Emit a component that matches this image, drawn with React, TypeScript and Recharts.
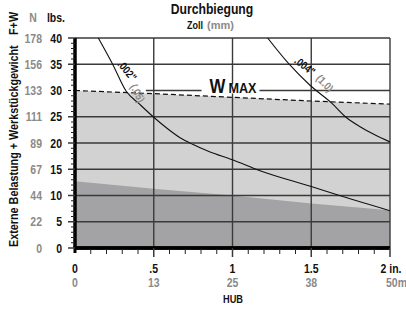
import React from 'react';
import { ComposedChart, Area, Line, XAxis, YAxis, ReferenceLine, ReferenceDot } from 'recharts';

const FONT = "'Liberation Sans', Arial, 'DejaVu Sans', sans-serif";
const GRAY_TEXT = '#8a8a8a';
const GRID = '#3a3a3a';

// y axis (lbs) and N equivalents
const lbsTicks = [0, 5, 10, 15, 20, 25, 30, 35, 40];
const newtonLabels = ['0', '22', '44', '67', '89', '111', '133', '156', '178'];
const yAllTicks = [0, 1, 2, 3, 4, 5, 6, 7, 8, 9, 10, 11, 12, 13, 14, 15, 16, 17, 18, 19, 20,
  21, 22, 23, 24, 25, 26, 27, 28, 29, 30, 31, 32, 33, 34, 35, 36, 37, 38, 39, 40];

// x axis (stroke, inches) and mm equivalents
const inchTicks = [0, 0.5, 1, 1.5, 2];
const inchLabels = ['0', '.5', '1', '1.5', '2 in.'];
const mmLabels = ['0', '13', '25', '38', '50mm'];
const xAllTicks = [0, 0.1, 0.2, 0.3, 0.4, 0.5, 0.6, 0.7, 0.8, 0.9, 1, 1.1, 1.2, 1.3, 1.4, 1.5,
  1.6, 1.7, 1.8, 1.9, 2];

// horizontal grid values (30 handled separately, interrupted by the W MAX label)
const gridY = [5, 10, 15, 20, 25, 35, 40];
const gridX = [0.5, 1, 1.5, 2];

// W MAX boundary (dashed), light area
const wmax = [
  { x: 0, y: 30 }, { x: 0.5, y: 29.4 }, { x: 1, y: 28.7 }, { x: 1.5, y: 28.0 }, { x: 2, y: 27.4 },
];
// dark area boundary
const darkZone = [
  { x: 0, y: 12.7 }, { x: 0.5, y: 11.3 }, { x: 1, y: 10.0 }, { x: 1.5, y: 8.5 }, { x: 2, y: 7.2 },
];
// .002" (.05) deflection curve
const curve002 = [
  { x: 0.148, y: 40 }, { x: 0.239, y: 35 }, { x: 0.324, y: 29.9 }, { x: 0.41, y: 27.4 },
  { x: 0.5, y: 24.9 }, { x: 0.58, y: 22.9 }, { x: 0.667, y: 21.0 }, { x: 0.75, y: 19.7 },
  { x: 0.85, y: 18.4 }, { x: 1.0, y: 16.8 }, { x: 1.175, y: 14.7 }, { x: 1.5, y: 11.7 },
  { x: 1.7, y: 9.8 }, { x: 2.0, y: 7.1 },
];
// .004" (1.0) deflection curve
const curve004 = [
  { x: 1.223, y: 40 }, { x: 1.354, y: 35.2 }, { x: 1.492, y: 31.0 }, { x: 1.63, y: 27.6 },
  { x: 1.725, y: 24.8 }, { x: 1.81, y: 23.1 }, { x: 1.9, y: 21.6 }, { x: 2.0, y: 20.2 },
];

// condensed bold text helper (horizontal scale along the text direction)
const CText = ({ x, y, size, color = '#111', anchor = 'start', sx = 0.84, angle = 0, weight = 'bold', children }: any) => (
  <text transform={`translate(${x} ${y}) rotate(${angle}) scale(${sx} 1)`} textAnchor={anchor}
    fontFamily={FONT} fontWeight={weight} fontSize={size} fill={color}>{children}</text>
);

const YTick = (props: any) => {
  const { x, y, payload } = props;
  const v = payload.value;
  const i = lbsTicks.indexOf(v);
  if (i < 0) {
    return <line x1={x - 4} x2={x} y1={y} y2={y} stroke="#222" strokeWidth={1} />;
  }
  return (
    <g>
      <line x1={x - 7} x2={x} y1={y} y2={y} stroke={v === 30 ? '#111' : GRID} strokeWidth={v === 30 ? 1.2 : 1.5}
        strokeDasharray={v === 30 ? '3 2' : undefined} />
      <CText x={x - 13} y={y + 4.5} anchor="end" size={12.5}>{String(v)}</CText>
      <CText x={x - 33} y={y + 4.5} anchor="end" size={12.5} color={GRAY_TEXT}>{newtonLabels[i]}</CText>
    </g>
  );
};

const XTick = (props: any) => {
  const { x, y, payload } = props;
  const v = payload.value;
  const i = inchTicks.findIndex((t) => Math.abs(t - v) < 1e-6);
  if (i < 0) {
    return <line x1={x} x2={x} y1={y + 1} y2={y + 6} stroke="#222" strokeWidth={1} />;
  }
  const last = i === inchTicks.length - 1;
  return (
    <g>
      {i === 0
        ? <line x1={x} x2={x} y1={y - 2} y2={y + 5} stroke="#000" strokeWidth={3} />
        : <line x1={x} x2={x} y1={y} y2={y + 9} stroke={GRID} strokeWidth={1.5} />}
      <CText x={last ? x + 1 : x} y={y + 24.5} anchor="middle" size={12.5}>{inchLabels[i]}</CText>
      <CText x={last ? x - 4 : x} y={y + 38.5} anchor={last ? 'start' : 'middle'} size={12.5} color={GRAY_TEXT}>{mmLabels[i]}</CText>
    </g>
  );
};

const rotLabel = (text: string, angle: number, color: string) => (p: any) => (
  <g transform={`translate(${p.cx} ${p.cy}) rotate(${angle})`}>
    <text x={0} y={4} transform="scale(0.85 1)" textAnchor="middle"
      fontFamily={FONT} fontWeight="bold" fontSize={11} fill={color}>{text}</text>
  </g>
);

const WMaxLabel = (p: any) => (
  <g>
    <rect x={p.cx - 31} y={p.cy - 6} width={58} height={9} fill="#fff" />
    <CText x={p.cx - 23} y={p.cy + 2.5} size={21} sx={0.8}>W</CText>
    <CText x={p.cx - 4} y={p.cy + 2.5} size={14} sx={0.9}>MAX</CText>
  </g>
);

export default function App() {
  return (
    <div style={{ position: 'absolute', left: 0, top: 0, width: 406, height: 311, background: '#fff' }}>
      <ComposedChart width={406} height={311} margin={{ top: 38, right: 16, bottom: 0, left: 0 }}>
        <XAxis dataKey="x" type="number" domain={[0, 2]} ticks={xAllTicks} interval={0}
          tick={<XTick />} tickLine={false} tickSize={0} tickMargin={0} height={63}
          axisLine={{ stroke: '#000', strokeWidth: 3.5 }} allowDataOverflow />
        <YAxis type="number" domain={[0, 40]} ticks={yAllTicks} interval={0}
          tick={<YTick />} tickLine={false} tickSize={0} tickMargin={0} width={75}
          axisLine={{ stroke: '#000', strokeWidth: 3 }} allowDataOverflow />
        <Area data={wmax} dataKey="y" type="linear" fill="#d2d2d2" fillOpacity={1} stroke="none" isAnimationActive={false} />
        <Area data={darkZone} dataKey="y" type="linear" fill="#a3a3a5" fillOpacity={1} stroke="none" isAnimationActive={false} />
        {gridY.map((v) => (
          <ReferenceLine key={`gy${v}`} y={v} stroke={GRID} strokeWidth={1.4} />
        ))}
        <ReferenceLine segment={[{ x: 0.45, y: 30 }, { x: 2, y: 30 }]} stroke={GRID} strokeWidth={1.4} />
        {gridX.map((v) => (
          <ReferenceLine key={`gx${v}`} x={v} stroke={GRID} strokeWidth={1.4} />
        ))}
        <Line data={wmax} dataKey="y" type="linear" stroke="#111" strokeWidth={1.2} strokeDasharray="5 3" dot={false} isAnimationActive={false} />
        <Line data={curve002} dataKey="y" type="monotone" stroke="#111" strokeWidth={1.1} dot={false} isAnimationActive={false} />
        <Line data={curve004} dataKey="y" type="monotone" stroke="#111" strokeWidth={1.1} dot={false} isAnimationActive={false} />
        <ReferenceLine segment={[{ x: 0, y: 0 }, { x: 0, y: 40 }]} stroke="#000" strokeWidth={3} />
        <ReferenceLine segment={[{ x: 0, y: 0 }, { x: 2, y: 0 }]} stroke="#000" strokeWidth={3.5} />
        <ReferenceDot x={1.0} y={30} r={0} shape={WMaxLabel} />
        <ReferenceDot x={0.332} y={33.8} r={0} shape={rotLabel('.002"', 50, '#111')} />
        <ReferenceDot x={0.398} y={29.5} r={0} shape={rotLabel('(.05)', 63, GRAY_TEXT)} />
        <ReferenceDot x={1.46} y={34.7} r={0} shape={rotLabel('.004"', 38, '#111')} />
        <ReferenceDot x={1.587} y={31.4} r={0} shape={rotLabel('(1.0)', 46, GRAY_TEXT)} />
      </ComposedChart>
      <svg width={406} height={311} style={{ position: 'absolute', left: 0, top: 0, pointerEvents: 'none' }}>
        <CText x={212} y={14} anchor="middle" size={14} sx={0.87}>Durchbiegung</CText>
        <CText x={187} y={29} size={11} sx={0.82}>Zoll</CText>
        <CText x={207} y={29} size={11} sx={1} color={GRAY_TEXT}>(mm)</CText>
        <CText x={33} y={22} anchor="middle" size={12.5} color={GRAY_TEXT}>N</CText>
        <CText x={56} y={22} anchor="middle" size={12.5}>lbs.</CText>
        <CText x={18} y={247} angle={-90} size={12} sx={0.9}>Externe Belastung + Werkstückgewicht</CText>
        <CText x={18} y={35} angle={-90} size={12} sx={0.9}>F+W</CText>
        <CText x={233} y={302.5} anchor="middle" size={11} sx={0.84}>HUB</CText>
      </svg>
    </div>
  );
}
